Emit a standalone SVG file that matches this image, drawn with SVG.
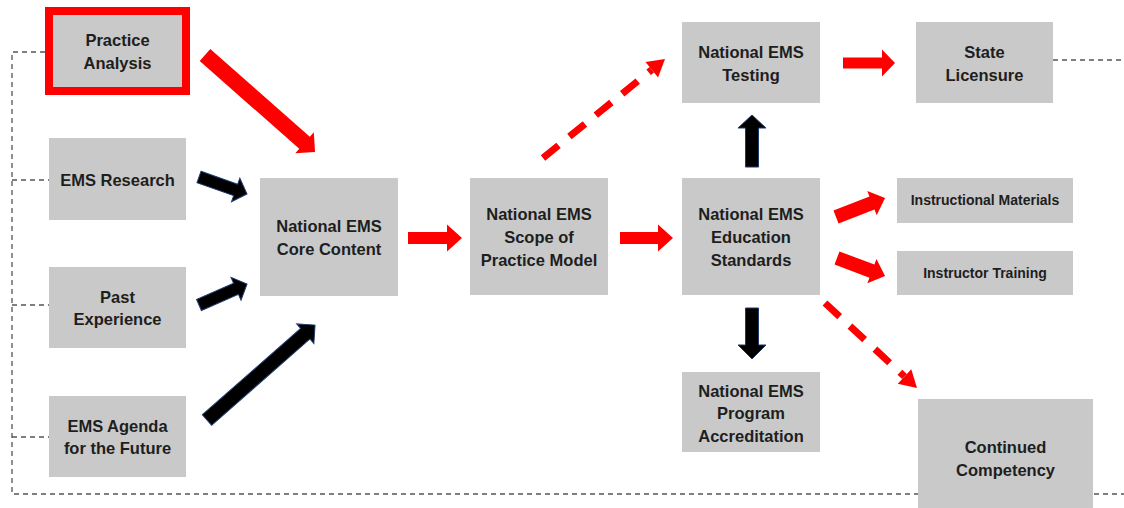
<svg xmlns="http://www.w3.org/2000/svg" width="1124" height="508" viewBox="0 0 1124 508">
<defs>
<style>
.box{fill:#c9c9c9}
.t{font-family:"Liberation Sans",Arial,sans-serif;font-weight:bold;font-size:16.5px;fill:#1e1e1e;text-anchor:middle}
.s{font-size:14px}
.frame{fill:none;stroke:#555;stroke-width:1.3;stroke-dasharray:5 4}
.red{fill:#ff0000}
.blk{fill:#000;stroke:#1f3a6e;stroke-width:1}
.dash{fill:none;stroke:#ff0000;stroke-width:7;stroke-dasharray:20 14}
</style>
<marker id="rh" markerUnits="userSpaceOnUse" markerWidth="20" markerHeight="24" viewBox="0 -12 18 24" refX="0" refY="0" orient="auto">
<path d="M0,-10 L17,0 L0,10 Z" fill="#ff0000"/>
</marker>
</defs>
<rect width="1124" height="508" fill="#fff"/>

<g id="connectors">
<path class="frame" d="M45,52 H12 V494 H1124 M12,180 H49 M12,305 H49 M12,437 H49 M1053,60 H1124"/>
<polygon class="red" transform="translate(205,55) rotate(41.4)" points="0,-8 132.7,-8 132.7,-14 146.7,0 132.7,14 132.7,8 0,8"/>
<polygon class="blk" transform="translate(199,177) rotate(19.5)" points="0,-6 38.9,-6 38.9,-12.5 50.9,0 38.9,12.5 38.9,6 0,6"/>
<polygon class="blk" transform="translate(199,305) rotate(-23.6)" points="0,-6 40.4,-6 40.4,-12.5 52.4,0 40.4,12.5 40.4,6 0,6"/>
<polygon class="blk" transform="translate(207,420) rotate(-41.3)" points="0,-7 130.8,-7 130.8,-13 143.8,0 130.8,13 130.8,7 0,7"/>
<polygon class="red" transform="translate(408,238)" points="0,-6 39,-6 39,-13.5 54,0 39,13.5 39,6 0,6"/>
<polygon class="red" transform="translate(620,238)" points="0,-6 38,-6 38,-13.5 53,0 38,13.5 38,6 0,6"/>
<polygon class="red" transform="translate(843,63)" points="0,-5.5 39,-5.5 39,-13.5 52,0 39,13.5 39,5.5 0,5.5"/>
<polygon class="blk" transform="translate(752,167) rotate(-90)" points="0,-6.5 39,-6.5 39,-14 52,0 39,14 39,6.5 0,6.5"/>
<polygon class="blk" transform="translate(752,308) rotate(90)" points="0,-6.5 37,-6.5 37,-14 51,0 37,14 37,6.5 0,6.5"/>
<polygon class="red" transform="translate(836,217) rotate(-21.2)" points="0,-7 38.6,-7 38.6,-13 52.6,0 38.6,13 38.6,7 0,7"/>
<polygon class="red" transform="translate(837,258) rotate(20.6)" points="0,-7 37.3,-7 37.3,-13 51.3,0 37.3,13 37.3,7 0,7"/>
<line class="dash" x1="543" y1="158" x2="651.8" y2="69.7" marker-end="url(#rh)"/>
<line class="dash" x1="825" y1="303" x2="904.5" y2="376.5" marker-end="url(#rh)"/>
</g>

<g id="practice-analysis">
<rect x="49" y="11" width="137" height="80" fill="#c9c9c9" stroke="#ff0000" stroke-width="8"/>
<text class="t" x="117.5" y="46">Practice</text>
<text class="t" x="117.5" y="69">Analysis</text>
</g>
<g id="ems-research">
<rect class="box" x="49" y="138" width="137" height="82"/>
<text class="t" x="117.5" y="186">EMS Research</text>
</g>
<g id="past-experience">
<rect class="box" x="49" y="267" width="137" height="81"/>
<text class="t" x="117.5" y="303">Past</text>
<text class="t" x="117.5" y="325">Experience</text>
</g>
<g id="ems-agenda">
<rect class="box" x="49" y="396" width="137" height="81"/>
<text class="t" x="117.5" y="432">EMS Agenda</text>
<text class="t" x="117.5" y="454">for the Future</text>
</g>
<g id="core-content">
<rect class="box" x="260" y="178" width="138" height="118"/>
<text class="t" x="329" y="232">National EMS</text>
<text class="t" x="329" y="255">Core Content</text>
</g>
<g id="scope-of-practice">
<rect class="box" x="470" y="178" width="138" height="117"/>
<text class="t" x="539" y="220">National EMS</text>
<text class="t" x="539" y="243">Scope of</text>
<text class="t" x="539" y="266">Practice Model</text>
</g>
<g id="education-standards">
<rect class="box" x="682" y="178" width="138" height="117"/>
<text class="t" x="751" y="220">National EMS</text>
<text class="t" x="751" y="243">Education</text>
<text class="t" x="751" y="266">Standards</text>
</g>
<g id="testing">
<rect class="box" x="682" y="22" width="138" height="81"/>
<text class="t" x="751" y="58">National EMS</text>
<text class="t" x="751" y="81">Testing</text>
</g>
<g id="state-licensure">
<rect class="box" x="916" y="22" width="137" height="81"/>
<text class="t" x="984.5" y="58">State</text>
<text class="t" x="984.5" y="81">Licensure</text>
</g>
<g id="instructional-materials">
<rect class="box" x="897" y="178" width="176" height="45"/>
<text class="t s" x="985" y="205">Instructional Materials</text>
</g>
<g id="instructor-training">
<rect class="box" x="897" y="251" width="176" height="44"/>
<text class="t s" x="985" y="278">Instructor Training</text>
</g>
<g id="program-accreditation">
<rect class="box" x="682" y="372" width="138" height="80"/>
<text class="t" x="751" y="397">National EMS</text>
<text class="t" x="751" y="419">Program</text>
<text class="t" x="751" y="442">Accreditation</text>
</g>
<g id="continued-competency">
<rect class="box" x="918" y="399" width="175" height="120"/>
<text class="t" x="1005.5" y="453">Continued</text>
<text class="t" x="1005.5" y="476">Competency</text>
</g>
</svg>
